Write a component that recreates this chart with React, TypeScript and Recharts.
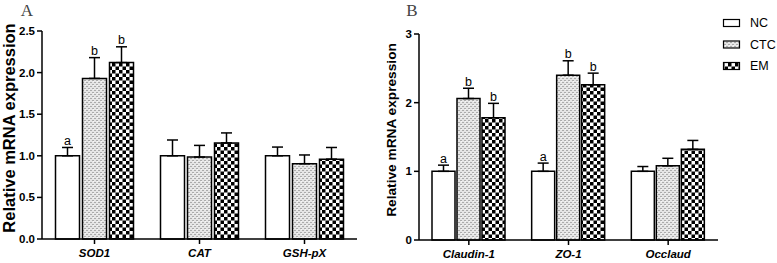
import React from 'react';
import { BarChart, Bar, XAxis, YAxis, ErrorBar, LabelList } from 'recharts';

// ---------- Data ----------
const categoriesA = ['SOD1', 'CAT', 'GSH-pX'];
const ncA = [1.0, 1.0, 1.0];
const ncErrA = [0.1, 0.19, 0.105];
const ctcA = [1.93, 0.985, 0.905];
const ctcErrA = [0.25, 0.14, 0.105];
const emA = [2.12, 1.155, 0.96];
const emErrA = [0.19, 0.12, 0.14];
const ncLettersA = ['a', '', ''];
const ctcLettersA = ['b', '', ''];
const emLettersA = ['b', '', ''];
const ticksA = [0, 0.5, 1.0, 1.5, 2.0, 2.5];

const categoriesB = ['Claudin-1', 'ZO-1', 'Occlaud'];
const ncB = [1.0, 1.0, 1.0];
const ncErrB = [0.09, 0.12, 0.07];
const ctcB = [2.06, 2.4, 1.08];
const ctcErrB = [0.15, 0.21, 0.11];
const emB = [1.78, 2.26, 1.32];
const emErrB = [0.21, 0.17, 0.13];
const ncLettersB = ['a', 'a', ''];
const ctcLettersB = ['b', 'b', ''];
const emLettersB = ['b', 'b', ''];
const ticksB = [0, 1, 2, 3];

const legendItems = ['NC', 'CTC', 'EM'];
const yTitle = 'Relative mRNA expression';

function buildRows(
  cats: string[], nc: number[], ncErr: number[], ctc: number[], ctcErr: number[],
  em: number[], emErr: number[], ncL: string[], ctcL: string[], emL: string[]
) {
  return cats.map((name, i) => ({
    name,
    nc: nc[i], ncErr: [0, ncErr[i]], ncL: ncL[i],
    ctc: ctc[i], ctcErr: [0, ctcErr[i]], ctcL: ctcL[i],
    em: em[i], emErr: [0, emErr[i]], emL: emL[i],
  }));
}

const dataA = buildRows(categoriesA, ncA, ncErrA, ctcA, ctcErrA, emA, emErrA, ncLettersA, ctcLettersA, emLettersA);
const dataB = buildRows(categoriesB, ncB, ncErrB, ctcB, ctcErrB, emB, emErrB, ncLettersB, ctcLettersB, emLettersB);

const FONT = "'Liberation Sans', Arial, sans-serif";

const makeLetter = (errs: number[], pxPerUnit: number) => (props: any) => {
  const { x, y, width, index, value } = props;
  if (!value) return null;
  const top = Number(y) - errs[index] * pxPerUnit;
  return (
    <text x={Number(x) + Number(width) / 2} y={top - 2.5} textAnchor="middle"
      fontFamily={FONT} fontSize={12.5} fill="#000">{value}</text>
  );
};

const XTick = (props: any) => {
  const { x, y, payload } = props;
  return (
    <text x={x} y={y + 11} textAnchor="middle" fontFamily={FONT} fontSize={11.5}
      fontWeight="bold" fontStyle="italic" fill="#000">{payload.value}</text>
  );
};

function Panel({ data, ticks, domainMax, fmt, width, margin, yWidth, xHeight, height, barCategoryGap, barGap, errs, ppu }: any) {
  return (
    <BarChart width={width} height={height} data={data} margin={margin}
      barCategoryGap={barCategoryGap} barGap={barGap}>
      <XAxis dataKey="name" height={xHeight} axisLine={{ stroke: '#000', strokeWidth: 1.5 }}
        tickLine={{ stroke: '#000', strokeWidth: 1.5 }} tickSize={5} tick={<XTick />} interval={0} />
      <YAxis domain={[0, domainMax]} ticks={ticks} width={yWidth} interval={0}
        axisLine={{ stroke: '#000', strokeWidth: 1.5 }} tickLine={{ stroke: '#000', strokeWidth: 1.5 }}
        tickSize={5} tickMargin={2} tickFormatter={fmt}
        tick={{ fontFamily: FONT, fontSize: 11.5, fontWeight: 'bold', fill: '#000' }} />
      <Bar dataKey="nc" fill="#ffffff" stroke="#000" strokeWidth={1.5} isAnimationActive={false}>
        <ErrorBar dataKey="ncErr" direction="y" width={5.5} stroke="#000" strokeWidth={1.5} />
        <LabelList dataKey="ncL" content={makeLetter(errs.nc, ppu)} />
      </Bar>
      <Bar dataKey="ctc" fill="url(#ctcPat)" stroke="#000" strokeWidth={1.5} isAnimationActive={false}>
        <ErrorBar dataKey="ctcErr" direction="y" width={5.5} stroke="#000" strokeWidth={1.5} />
        <LabelList dataKey="ctcL" content={makeLetter(errs.ctc, ppu)} />
      </Bar>
      <Bar dataKey="em" fill="url(#emPat)" stroke="#000" strokeWidth={1.5} isAnimationActive={false}>
        <ErrorBar dataKey="emErr" direction="y" width={5.5} stroke="#000" strokeWidth={1.5} />
        <LabelList dataKey="emL" content={makeLetter(errs.em, ppu)} />
      </Bar>
    </BarChart>
  );
}

export default function App() {
  // plot area A: y 31 -> 239 ; B: y 34 -> 240
  const ppuA = (239 - 31) / 2.5;
  const ppuB = (240 - 34) / 3;
  return (
    <div style={{ position: 'absolute', left: 0, top: 0, width: 777, height: 263, background: '#fff', overflow: 'hidden' }}>
      <svg width={0} height={0} style={{ position: 'absolute' }}>
        <defs>
          <pattern id="ctcPat" patternUnits="userSpaceOnUse" width={4} height={4}>
            <rect width={4} height={4} fill="#e6e6e6" />
            <rect x={0} y={0} width={2} height={1} fill="#ababab" />
            <rect x={2} y={2} width={2} height={1} fill="#ababab" />
            <rect x={1} y={1} width={1} height={1} fill="#f8f8f8" />
          </pattern>
          <pattern id="emPat" patternUnits="userSpaceOnUse" width={7} height={7}>
            <rect width={7} height={7} fill="#fff" />
            <rect x={0} y={0} width={3.5} height={3.5} fill="#000" />
            <rect x={3.5} y={3.5} width={3.5} height={3.5} fill="#000" />
          </pattern>
        </defs>
      </svg>
      <div style={{ position: 'absolute', left: 0, top: 0 }}>
        <Panel data={dataA} ticks={ticksA} domainMax={2.5} fmt={(v: number) => v.toFixed(1)}
          width={380} height={263} margin={{ top: 31, right: 23, bottom: 0, left: 0 }}
          yWidth={42} xHeight={24} barCategoryGap={13.5} barGap={3}
          errs={{ nc: ncErrA, ctc: ctcErrA, em: emErrA }} ppu={ppuA} />
      </div>
      <div style={{ position: 'absolute', left: 380, top: 0 }}>
        <Panel data={dataB} ticks={ticksB} domainMax={3} fmt={(v: number) => String(v)}
          width={397} height={263} margin={{ top: 34, right: 59, bottom: 0, left: 0 }}
          yWidth={39} xHeight={23} barCategoryGap={13} barGap={2}
          errs={{ nc: ncErrB, ctc: ctcErrB, em: emErrB }} ppu={ppuB} />
      </div>
      <svg width={777} height={263} style={{ position: 'absolute', left: 0, top: 0, pointerEvents: 'none' }}>
        <text x={27} y={16} textAnchor="middle" fontFamily="'Liberation Serif', 'Times New Roman', serif"
          fontSize={17} fill="#444">A</text>
        <text x={412} y={16} textAnchor="middle" fontFamily="'Liberation Serif', 'Times New Roman', serif"
          fontSize={17} fill="#444">B</text>
        <text transform="translate(9,128) rotate(-90)" textAnchor="middle" dominantBaseline="central"
          fontFamily={FONT} fontSize={16.5} fontWeight="bold" fill="#000">{yTitle}</text>
        <text transform="translate(391,130) rotate(-90)" textAnchor="middle" dominantBaseline="central"
          fontFamily={FONT} fontSize={13.7} fontWeight="bold" fill="#000">{yTitle}</text>
        {legendItems.map((name, i) => {
          const cy = 23 + i * 21.5;
          const fill = i === 0 ? '#fff' : i === 1 ? 'url(#ctcPat)' : 'url(#emPat)';
          return (
            <g key={name}>
              <rect x={723.5} y={cy - 3.5} width={16} height={7} fill={fill} stroke="#000" strokeWidth={1.2} />
              <text x={750} y={cy} dominantBaseline="central" fontFamily={FONT} fontSize={12.5} fill="#000">{name}</text>
            </g>
          );
        })}
      </svg>
    </div>
  );
}
